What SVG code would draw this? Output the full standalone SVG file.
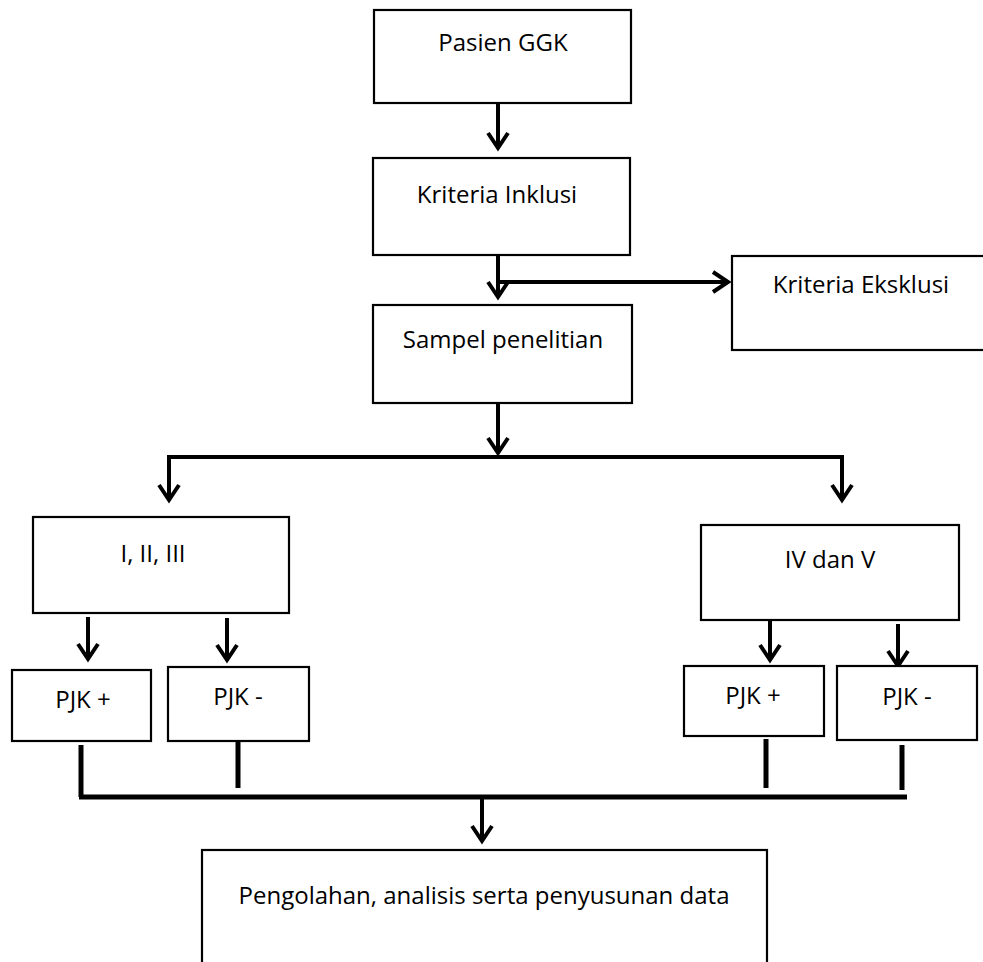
<svg xmlns="http://www.w3.org/2000/svg" width="983" height="962" viewBox="0 0 983 962">
<style>
.box{fill:#fff;stroke:#000;stroke-width:2.2}
.lbl{font-family:"Open Sans","Noto Sans",sans-serif;font-size:24px;fill:#000;text-anchor:middle}
.con{stroke:#000;stroke-width:4;fill:none}
.thick{stroke:#000;stroke-width:5;fill:none}
</style>
<defs>
<marker id="ah" viewBox="-20 -14 24 28" refX="0" refY="0" markerWidth="24" markerHeight="28" markerUnits="userSpaceOnUse" orient="auto">
<path d="M-15,-10 L0,0 L-15,10" fill="none" stroke="#000" stroke-width="4" stroke-linejoin="miter"/>
</marker>
</defs>
<rect width="983" height="962" fill="#fff"/>
<g id="connectors">
<line class="con" x1="498" y1="103" x2="498" y2="148" marker-end="url(#ah)"/>
<line class="con" x1="498" y1="255" x2="498" y2="297" marker-end="url(#ah)"/>
<line class="con" x1="498" y1="282" x2="728" y2="282" marker-end="url(#ah)"/>
<line class="con" x1="498" y1="403" x2="498" y2="453" marker-end="url(#ah)"/>
<polyline class="con" points="169,500 169,457 842,457 842,500"/>
<line class="con" x1="169" y1="470" x2="169" y2="500" marker-end="url(#ah)"/>
<line class="con" x1="842" y1="470" x2="842" y2="500" marker-end="url(#ah)"/>
<line class="con" x1="88" y1="617" x2="88" y2="659" marker-end="url(#ah)"/>
<line class="con" x1="227" y1="618" x2="227" y2="660" marker-end="url(#ah)"/>
<line class="con" x1="770" y1="620" x2="770" y2="660" marker-end="url(#ah)"/>
<line class="con" x1="898" y1="624" x2="898" y2="666" marker-end="url(#ah)"/>
<line class="thick" x1="81" y1="745" x2="81" y2="797"/>
<line class="thick" x1="238" y1="742" x2="238" y2="788"/>
<line class="thick" x1="766" y1="739" x2="766" y2="788"/>
<line class="thick" x1="902" y1="745" x2="902" y2="790"/>
<line class="thick" x1="79" y1="797" x2="907" y2="797"/>
<line class="con" x1="482" y1="797" x2="482" y2="841" marker-end="url(#ah)"/>
</g>
<g id="pasien"><rect class="box" x="374" y="10" width="257" height="93"/><text class="lbl" x="503" y="51">Pasien GGK</text></g>
<g id="inklusi"><rect class="box" x="373" y="158" width="257" height="97"/><text class="lbl" x="497" y="203">Kriteria Inklusi</text></g>
<g id="eksklusi"><rect class="box" x="732" y="256" width="260" height="94"/><text class="lbl" x="861" y="293">Kriteria Eksklusi</text></g>
<g id="sampel"><rect class="box" x="373" y="305" width="259" height="98"/><text class="lbl" x="503" y="348">Sampel penelitian</text></g>
<g id="g123"><rect class="box" x="33" y="517" width="256" height="96"/><text class="lbl" x="153" y="562">I, II, III</text></g>
<g id="g45"><rect class="box" x="701" y="525" width="258" height="95"/><text class="lbl" x="830" y="568">IV dan V</text></g>
<g id="pjkp1"><rect class="box" x="12" y="670" width="139" height="71"/><text class="lbl" x="83" y="708">PJK +</text></g>
<g id="pjkm1"><rect class="box" x="168" y="667" width="141" height="74"/><text class="lbl" x="238" y="705">PJK -</text></g>
<g id="pjkp2"><rect class="box" x="684" y="666" width="140" height="70"/><text class="lbl" x="753" y="704">PJK +</text></g>
<g id="pjkm2"><rect class="box" x="837" y="666" width="140" height="74"/><text class="lbl" x="907" y="705">PJK -</text></g>
<g id="olah"><rect class="box" x="202" y="850" width="565" height="130"/><text class="lbl" x="484" y="904">Pengolahan, analisis serta penyusunan data</text></g>
</svg>
